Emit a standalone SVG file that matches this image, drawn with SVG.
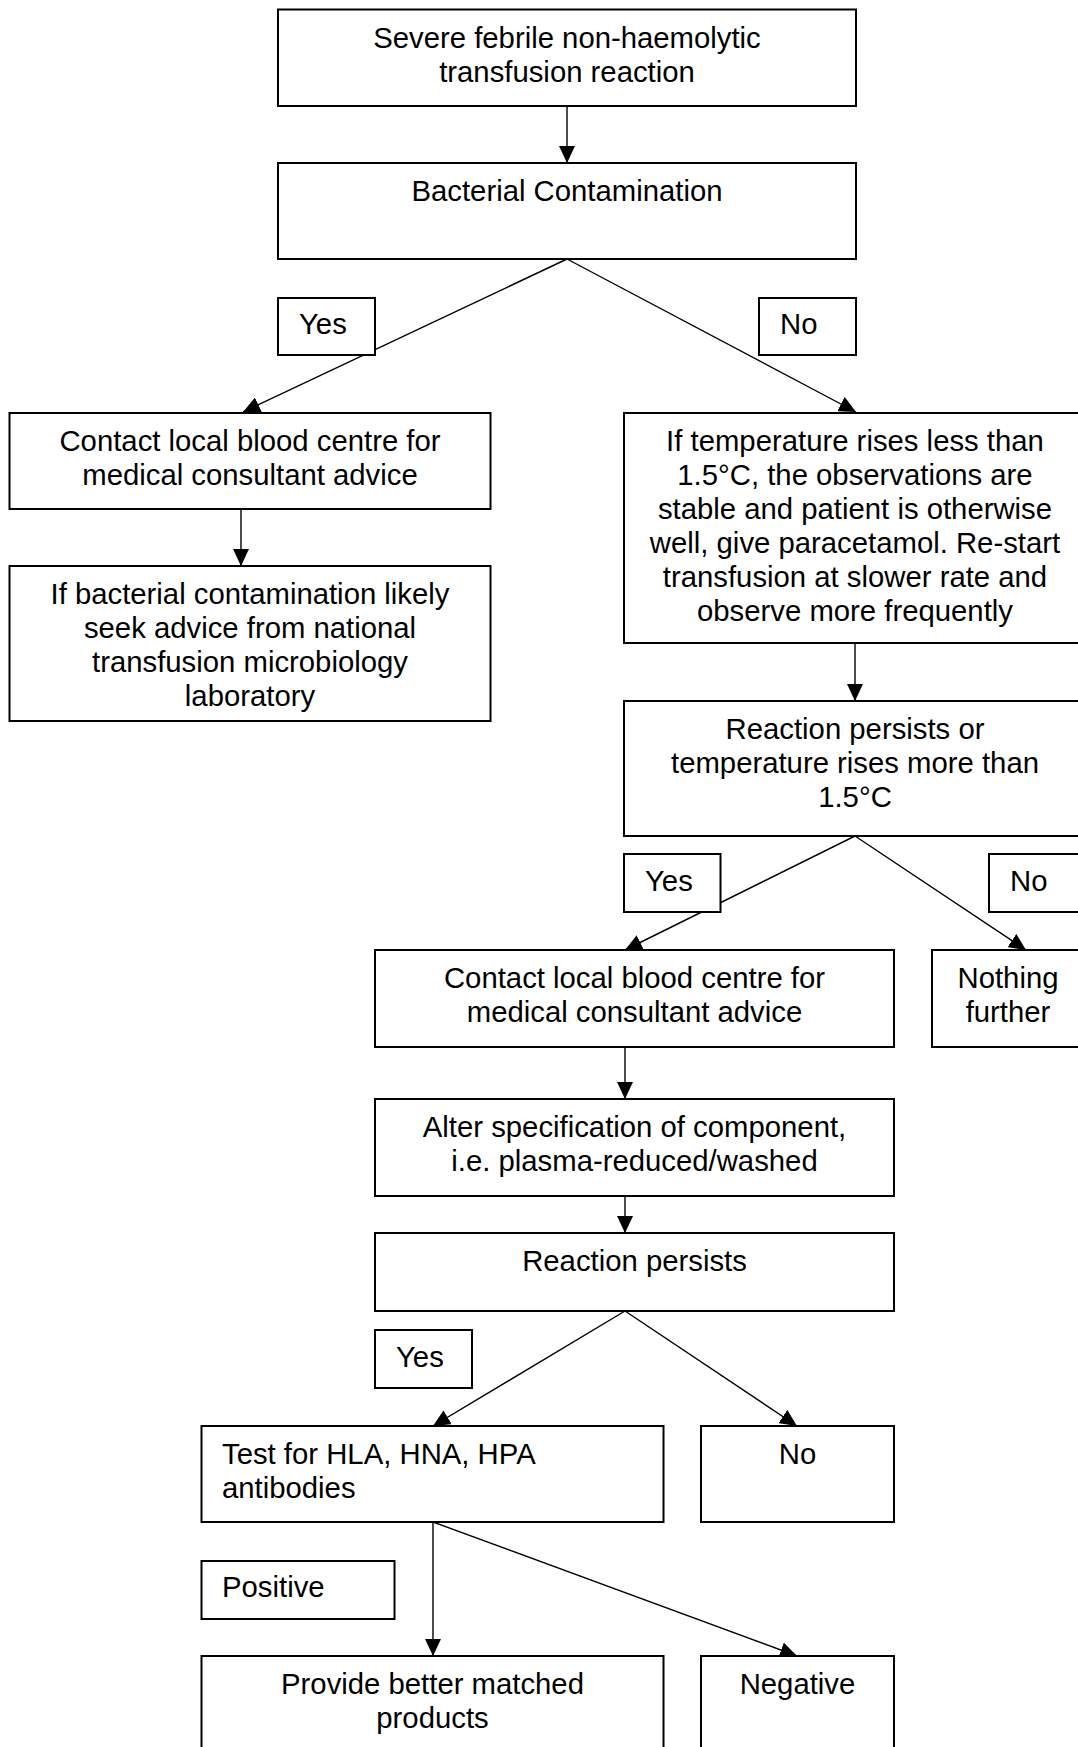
<svg xmlns="http://www.w3.org/2000/svg" width="1078" height="1747" viewBox="0 0 1078 1747">
<style>
  .box { fill: #ffffff; stroke: #000000; stroke-width: 2; }
  .t { font-family: "Liberation Sans", Arial, sans-serif; font-size: 29.3px; fill: #000000; }
  .c { text-anchor: middle; }
  .ln { fill: none; stroke: #000000; stroke-width: 1.4; }
</style>
<defs>
  <marker id="ah" markerUnits="userSpaceOnUse" markerWidth="17" markerHeight="16" refX="17" refY="8" orient="auto">
    <path d="M0,0 L17,8 L0,16 Z" fill="#000000"/>
  </marker>
</defs>
<rect width="1078" height="1747" fill="#ffffff"/>

<g id="connectors">
  <line class="ln" x1="567" y1="106" x2="567" y2="163" marker-end="url(#ah)"/>
  <line class="ln" x1="567" y1="259" x2="243" y2="412" marker-end="url(#ah)"/>
  <line class="ln" x1="567" y1="259" x2="856" y2="412" marker-end="url(#ah)"/>
  <line class="ln" x1="241" y1="509" x2="241" y2="566" marker-end="url(#ah)"/>
  <line class="ln" x1="855" y1="643" x2="855" y2="701" marker-end="url(#ah)"/>
  <line class="ln" x1="855" y1="836" x2="625" y2="950" marker-end="url(#ah)"/>
  <line class="ln" x1="855" y1="836" x2="1026" y2="950" marker-end="url(#ah)"/>
  <line class="ln" x1="625" y1="1042" x2="625" y2="1099" marker-end="url(#ah)"/>
  <line class="ln" x1="625" y1="1196" x2="625" y2="1233" marker-end="url(#ah)"/>
  <line class="ln" x1="625" y1="1311" x2="433" y2="1426" marker-end="url(#ah)"/>
  <line class="ln" x1="625" y1="1311" x2="797" y2="1426" marker-end="url(#ah)"/>
  <line class="ln" x1="433" y1="1522" x2="433" y2="1656" marker-end="url(#ah)"/>
  <line class="ln" x1="433" y1="1522" x2="797" y2="1656" marker-end="url(#ah)"/>
</g>

<g id="n-severe">
  <rect class="box" x="278" y="9.5" width="578" height="96.5"/>
  <text class="t c" x="567" y="48">Severe febrile non-haemolytic</text>
  <text class="t c" x="567" y="82">transfusion reaction</text>
</g>
<g id="n-bacterial">
  <rect class="box" x="278" y="163" width="578" height="96"/>
  <text class="t c" x="567" y="201">Bacterial Contamination</text>
</g>
<g id="l-yes1">
  <rect class="box" x="278" y="298" width="97" height="57"/>
  <text class="t" x="299" y="334">Yes</text>
</g>
<g id="l-no1">
  <rect class="box" x="759" y="298" width="97" height="57"/>
  <text class="t" x="780" y="334">No</text>
</g>
<g id="n-contact1">
  <rect class="box" x="9.5" y="413" width="481" height="96"/>
  <text class="t c" x="250" y="451">Contact local blood centre for</text>
  <text class="t c" x="250" y="485">medical consultant advice</text>
</g>
<g id="n-likely">
  <rect class="box" x="9.5" y="566" width="481" height="155"/>
  <text class="t c" x="250" y="604">If bacterial contamination likely</text>
  <text class="t c" x="250" y="638">seek advice from national</text>
  <text class="t c" x="250" y="672">transfusion microbiology</text>
  <text class="t c" x="250" y="706">laboratory</text>
</g>
<g id="n-temp">
  <rect class="box" x="624" y="413" width="462" height="230"/>
  <text class="t c" x="855" y="451">If temperature rises less than</text>
  <text class="t c" x="855" y="485">1.5°C, the observations are</text>
  <text class="t c" x="855" y="519">stable and patient is otherwise</text>
  <text class="t c" x="855" y="553">well, give paracetamol. Re-start</text>
  <text class="t c" x="855" y="587">transfusion at slower rate and</text>
  <text class="t c" x="855" y="621">observe more frequently</text>
</g>
<g id="n-persists1">
  <rect class="box" x="624" y="701" width="462" height="135"/>
  <text class="t c" x="855" y="739">Reaction persists or</text>
  <text class="t c" x="855" y="773">temperature rises more than</text>
  <text class="t c" x="855" y="807">1.5°C</text>
</g>
<g id="l-yes2">
  <rect class="box" x="624" y="854" width="96.5" height="58"/>
  <text class="t" x="645" y="891">Yes</text>
</g>
<g id="l-no2">
  <rect class="box" x="989" y="854" width="97" height="58"/>
  <text class="t" x="1010" y="891">No</text>
</g>
<g id="n-contact2">
  <rect class="box" x="375" y="950" width="519" height="97"/>
  <text class="t c" x="634.5" y="988">Contact local blood centre for</text>
  <text class="t c" x="634.5" y="1022">medical consultant advice</text>
</g>
<g id="n-nothing">
  <rect class="box" x="932" y="950" width="154" height="97"/>
  <text class="t c" x="1008" y="988">Nothing</text>
  <text class="t c" x="1008" y="1022">further</text>
</g>
<g id="n-alter">
  <rect class="box" x="375" y="1099" width="519" height="97"/>
  <text class="t c" x="634.5" y="1137">Alter specification of component,</text>
  <text class="t c" x="634.5" y="1171">i.e. plasma-reduced/washed</text>
</g>
<g id="n-persists2">
  <rect class="box" x="375" y="1233" width="519" height="78"/>
  <text class="t c" x="634.5" y="1271">Reaction persists</text>
</g>
<g id="l-yes3">
  <rect class="box" x="375" y="1330" width="97" height="58"/>
  <text class="t" x="396" y="1367">Yes</text>
</g>
<g id="n-test">
  <rect class="box" x="201.5" y="1426" width="462" height="96"/>
  <text class="t" x="222" y="1464">Test for HLA, HNA, HPA</text>
  <text class="t" x="222" y="1498">antibodies</text>
</g>
<g id="n-no3">
  <rect class="box" x="701" y="1426" width="193" height="96"/>
  <text class="t c" x="797.5" y="1464">No</text>
</g>
<g id="l-positive">
  <rect class="box" x="201.5" y="1561" width="193" height="58"/>
  <text class="t" x="222" y="1597">Positive</text>
</g>
<g id="n-provide">
  <rect class="box" x="201.5" y="1656" width="462" height="110"/>
  <text class="t c" x="432.5" y="1694">Provide better matched</text>
  <text class="t c" x="432.5" y="1728">products</text>
</g>
<g id="n-negative">
  <rect class="box" x="701" y="1656" width="193" height="110"/>
  <text class="t c" x="797.5" y="1694">Negative</text>
</g>
</svg>
